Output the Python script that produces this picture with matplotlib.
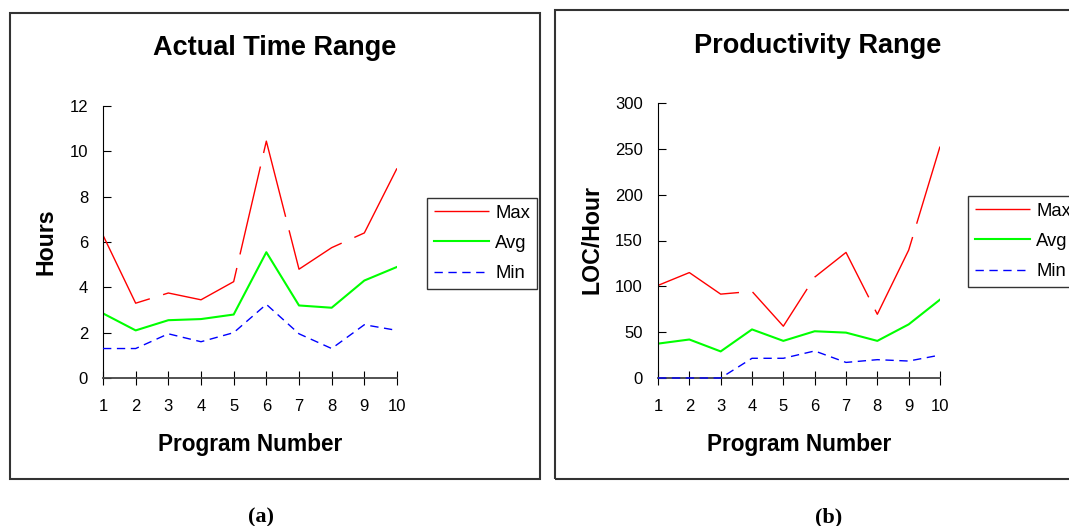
import numpy as np
import matplotlib
matplotlib.use('Agg')
from matplotlib import pyplot as plt
from matplotlib.patches import Rectangle

plt.rcParams['font.family'] = ['Liberation Sans', 'DejaVu Sans']

programs = np.arange(1, 11)

# Actual time range (hours)
time_max = [6.3, 3.3, 3.75, 3.45, 4.25, 10.45, 4.8, 5.75, 6.4, 9.25]
time_avg = [2.85, 2.1, 2.55, 2.6, 2.8, 5.55, 3.2, 3.1, 4.3, 4.9]
time_min = [1.3, 1.3, 1.95, 1.6, 2.0, 3.25, 1.95, 1.3, 2.35, 2.1]

# Productivity range (LOC/Hour)
prod_max = [101, 115, 91.5, 94.5, 56.5, 110, 137, 69.5, 139.5, 252.5]
prod_avg = [37.5, 42, 29, 53, 40.5, 51, 49.5, 40.5, 58.5, 85.5]
prod_min = [0, 0, 0, 21.5, 21.5, 29.5, 17, 20, 18.5, 25]

W, H = 1069, 526
fig = plt.figure(figsize=(W / 100, H / 100), dpi=100)


def fx(px):
    return px / W


def fy(py):
    return 1 - py / H


# panel frames
for x0, x1, y0, y1 in [(10, 540, 13, 479), (555, 1130, 10, 479)]:
    fig.patches.append(Rectangle((fx(x0), fy(y1)), fx(x1 - x0), (y1 - y0) / H,
                                 transform=fig.transFigure, fill=False,
                                 edgecolor='#333333', lw=1.5))

panels = [
    dict(box=(103, 397, 106, 378), ymax=12, yticks=np.arange(0, 13, 2),
         data=(time_max, time_avg, time_min), title="Actual Time Range",
         title_xy=(275, 55), ylabel="Hours", ylabel_xy=(53, 242),
         leg=(427, 198), cap="(a)", cap_x=261),
    dict(box=(658, 940, 103, 378), ymax=300, yticks=np.arange(0, 301, 50),
         data=(prod_max, prod_avg, prod_min), title="Productivity Range",
         title_xy=(818, 53), ylabel="LOC/Hour", ylabel_xy=(599, 240),
         leg=(968, 196), cap="(b)", cap_x=829),
]

for p in panels:
    l, r, t, b = p['box']
    ax = fig.add_axes([fx(l), fy(b), fx(r - l), (b - t) / H])
    vmax, vavg, vmin = p['data']
    ax.plot(programs, vmax, color='#ff0000', lw=1.0, dashes=(65, 10), label='Max')
    ax.plot(programs, vavg, color='#00ff00', lw=1.5, label='Avg')
    ax.plot(programs, vmin, color='#0000ff', lw=1.0, dashes=(6, 4), label='Min',
            clip_on=False, zorder=3)

    ax.set_xlim(1, 10)
    ax.set_ylim(0, p['ymax'])
    ax.set_xticks(programs)
    ax.set_yticks(p['yticks'])
    for s in ['top', 'right']:
        ax.spines[s].set_visible(False)
    ax.spines['left'].set_color('black')
    ax.spines['bottom'].set_color('#444444')
    ax.spines['bottom'].set_linewidth(1.3)
    ax.tick_params(axis='y', direction='in', length=6, pad=10.8, labelsize=12)
    ax.tick_params(axis='x', direction='inout', length=10, pad=10, labelsize=12)
    ax.patch.set_visible(False)

    # axis labels and title placed in pixel positions of the panel
    fig.text(fx((l + r) / 2), fy(451), "Program Number", fontsize=16.3,
             fontweight='bold', ha='center', va='baseline')
    tx, ty = p['title_xy']
    fig.text(fx(tx), fy(ty), p['title'], fontsize=19.5, fontweight='bold',
             ha='center', va='baseline')
    yx, yy = p['ylabel_xy']
    fig.text(fx(yx), fy(yy), p['ylabel'], fontsize=16.7, fontweight='bold',
             rotation=90, rotation_mode='anchor', ha='center', va='baseline')

    lx, ly = p['leg']
    fig.legend(handles=ax.get_lines(), loc='upper left',
               bbox_to_anchor=(fx(lx), fy(ly)), bbox_transform=fig.transFigure,
               fontsize=13.3, frameon=True, fancybox=False, edgecolor='#333333',
               framealpha=1, handlelength=3.0, handletextpad=0.33,
               labelspacing=0.72, borderpad=0.36, borderaxespad=0)

    fig.text(fx(p['cap_x']), fy(517), p['cap'], fontsize=16, fontweight='bold',
             family=['Liberation Serif', 'DejaVu Serif'], ha='center', va='center')

fig.savefig('out.png', dpi=100)
